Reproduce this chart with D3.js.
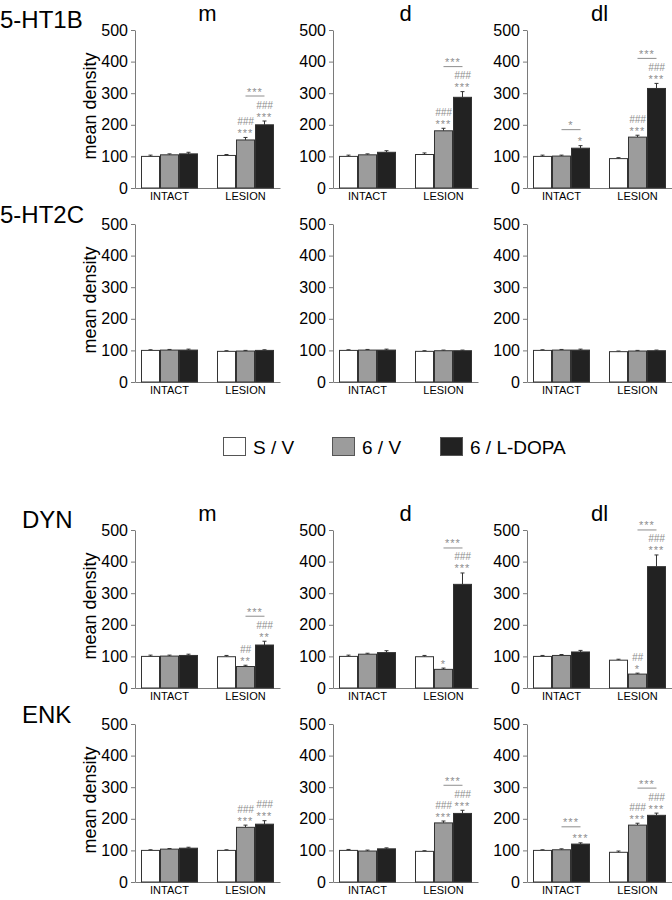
<!DOCTYPE html>
<html><head><meta charset="utf-8">
<script src="https://cdn.jsdelivr.net/npm/d3@7"></script>
<style>body{margin:0;background:#fff} svg{display:block} text{font-family:"Liberation Sans",Arial,Helvetica,sans-serif}</style>
</head><body><svg id="c" width="672" height="900"></svg>
<script>
// ---------- DATA ----------
const markers = ["5-HT1B", "5-HT2C", "DYN", "ENK"];
const regions = ["m", "d", "dl"];
const groups = ["INTACT", "LESION"];
const series = ["S / V", "6 / V", "6 / L-DOPA"];
const yTicks = [0, 100, 200, 300, 400, 500];

// means[region][group][series]
const ht1bMeans = [[[100,105,108],[103,152,200]], [[100,105,113],[106,181,287]], [[100,101,126],[93,161,315]]];
const ht1bErrors = [[[4,3,5],[3,8,12]], [[4,3,5],[5,8,18]], [[4,3,8],[3,6,16]]];
const ht2cMeans = [[[100,101,101],[97,98,100]], [[100,101,101],[97,99,99]], [[100,101,101],[96,98,99]]];
const ht2cErrors = [[[2,2,3],[2,2,2]], [[2,2,3],[2,2,2]], [[2,2,3],[2,2,2]]];
const dynMeans = [[[100,101,103],[99,68,136]], [[100,107,112],[99,59,328]], [[100,103,114],[88,44,384]]];
const dynErrors = [[[4,3,4],[4,4,12]], [[4,3,6],[4,4,36]], [[3,3,5],[3,3,37]]];
const enkMeans = [[[100,104,107],[100,173,183]], [[100,98,105],[97,187,217]], [[100,102,120],[94,180,211]]];
const enkErrors = [[[2,2,3],[2,7,11]], [[3,3,3],[2,6,10]], [[2,3,4],[4,6,7]]];

// significance marks: [marker, region, group, seriesIndex, labels bottom-to-top]
const barMarks = [
  ["5-HT1B","m","LESION",1,["***","###"]], ["5-HT1B","m","LESION",2,["***","###"]],
  ["5-HT1B","d","LESION",1,["***","###"]], ["5-HT1B","d","LESION",2,["***","###"]],
  ["5-HT1B","dl","INTACT",2,["*"]],
  ["5-HT1B","dl","LESION",1,["***","###"]], ["5-HT1B","dl","LESION",2,["***","###"]],
  ["DYN","m","LESION",1,["**","##"]], ["DYN","m","LESION",2,["**","###"]],
  ["DYN","d","LESION",1,["*"]], ["DYN","d","LESION",2,["***","###"]],
  ["DYN","dl","LESION",1,["*","##"]], ["DYN","dl","LESION",2,["***","###"]],
  ["ENK","m","LESION",1,["***","###"]], ["ENK","m","LESION",2,["***","###"]],
  ["ENK","d","LESION",1,["***","###"]], ["ENK","d","LESION",2,["***","###"]],
  ["ENK","dl","INTACT",2,["***"]],
  ["ENK","dl","LESION",1,["***","###"]], ["ENK","dl","LESION",2,["***","###"]]
];
// brackets between 6/V and 6/L-DOPA: [marker, region, group, label]
const brackets = [
  ["5-HT1B","m","LESION","***"], ["5-HT1B","d","LESION","***"],
  ["5-HT1B","dl","INTACT","*"], ["5-HT1B","dl","LESION","***"],
  ["DYN","m","LESION","***"], ["DYN","d","LESION","***"], ["DYN","dl","LESION","***"],
  ["ENK","d","LESION","***"], ["ENK","dl","INTACT","***"], ["ENK","dl","LESION","***"]
];

const meansByMarker = {"5-HT1B": ht1bMeans, "5-HT2C": ht2cMeans, "DYN": dynMeans, "ENK": enkMeans};
const errorsByMarker = {"5-HT1B": ht1bErrors, "5-HT2C": ht2cErrors, "DYN": dynErrors, "ENK": enkErrors};

// ---------- LAYOUT ----------
const panelX = [135, 333, 527];
const rowBase = [188, 382, 688, 882];
const plotH = 158, panelW = 145;
const fills = ["#ffffff", "#9c9c9c", "#222222"];
const axisColor = "#7a7a7a";
const markColor = "#8e8e8e";
const rowTitle = [{x:0,y:28},{x:0,y:223},{x:22,y:528},{x:22,y:723}];
const colTitleRows = [0, 2];

const svg = d3.select("#c");

markers.forEach((mk, ri) => {
  const y0 = rowBase[ri];
  const y = d3.scaleLinear().domain([0, 500]).range([y0, y0 - plotH]);
  svg.append("text").attr("x", rowTitle[ri].x).attr("y", rowTitle[ri].y)
    .attr("font-size", 24).text(mk);
  svg.append("text")
    .attr("transform", `translate(96,${y0 - 82}) rotate(-90)`)
    .attr("text-anchor", "middle").attr("font-size", 18).text("mean density");

  regions.forEach((rg, ci) => {
    const x0 = panelX[ci];
    const xg = d3.scaleBand().domain(groups).range([x0, x0 + panelW]).paddingInner(0.25).paddingOuter(0.079);
    const xs = d3.scaleBand().domain(d3.range(series.length)).range([0, xg.bandwidth()]).padding(0);
    const g = svg.append("g");

    if (colTitleRows.includes(ri)) {
      g.append("text").attr("x", x0 + panelW / 2).attr("y", y0 - plotH - 9)
        .attr("text-anchor", "middle").attr("font-size", 22).text(rg);
    }

    const yAxis = g.append("g").attr("transform", `translate(${x0},0)`)
      .call(d3.axisLeft(y).tickValues(yTicks).tickSize(4).tickSizeOuter(0).tickPadding(3));
    yAxis.selectAll("path,line").attr("stroke", axisColor);
    yAxis.selectAll("text").attr("font-size", 16).attr("fill", "#000")
      .attr("font-family", '"Liberation Sans",Arial,sans-serif');

    const xAxis = g.append("g").attr("transform", `translate(0,${y0})`)
      .call(d3.axisBottom(xg).tickSize(0).tickSizeOuter(0).tickPadding(4));
    xAxis.selectAll("path").attr("stroke", axisColor);
    xAxis.selectAll("text").attr("font-size", 11).attr("fill", "#000")
      .attr("font-family", '"Liberation Sans",Arial,sans-serif');

    const means = meansByMarker[mk][ci], errs = errorsByMarker[mk][ci];
    const tops = {};
    groups.forEach((gr, gi) => {
      series.forEach((s, si) => {
        const v = means[gi][si], e = errs[gi][si];
        const bx = xg(gr) + xs(si), bw = xs.bandwidth();
        const cx = bx + bw / 2;
        g.append("line").attr("x1", cx).attr("x2", cx).attr("y1", y(v)).attr("y2", y(v + e))
          .attr("stroke", "#333").attr("stroke-width", 1);
        g.append("line").attr("x1", cx - 2).attr("x2", cx + 2).attr("y1", y(v + e)).attr("y2", y(v + e))
          .attr("stroke", "#333").attr("stroke-width", 1);
        g.append("rect").attr("x", bx + 0.5).attr("y", y(v)).attr("width", bw - 1).attr("height", y0 - y(v))
          .attr("fill", fills[si]).attr("stroke", "#333").attr("stroke-width", 1);
        let topC = y(v + e);
        const bm = barMarks.find(d => d[0] === mk && d[1] === rg && d[2] === gr && d[3] === si);
        if (bm) {
          bm[4].forEach((lab, li) => {
            const c = y(v + e) - 7 - 9 * li;
            const isHash = lab.includes("#");
            g.append("text").attr("x", cx).attr("y", isHash ? c + 3.5 : c + 6.5)
              .attr("text-anchor", "middle").attr("fill", markColor)
              .attr("font-size", isHash ? 10 : 11).attr("font-style", isHash ? "italic" : "normal")
              .attr("letter-spacing", isHash ? 0 : 1).text(lab);
            topC = c;
          });
        }
        tops[gr + si] = {topC, cx};
      });
    });

    brackets.filter(d => d[0] === mk && d[1] === rg).forEach(b => {
      const a = tops[b[2] + 1], c = tops[b[2] + 2];
      const ly = Math.min(a.topC, c.topC) - 9;
      g.append("line").attr("x1", a.cx).attr("x2", c.cx).attr("y1", ly).attr("y2", ly)
        .attr("stroke", markColor).attr("stroke-width", 1);
      g.append("text").attr("x", (a.cx + c.cx) / 2).attr("y", ly - 7 + 6.5)
        .attr("text-anchor", "middle").attr("fill", markColor).attr("font-size", 11)
        .attr("letter-spacing", 1).text(b[3]);
    });
  });
});

// ---------- LEGEND ----------
const legX = [223, 332, 440];
const leg = svg.append("g");
series.forEach((s, i) => {
  leg.append("rect").attr("x", legX[i] + 0.5).attr("y", 437.5).attr("width", 22).attr("height", 18)
    .attr("fill", fills[i]).attr("stroke", "#555").attr("stroke-width", 1);
  leg.append("text").attr("x", legX[i] + 30).attr("y", 454).attr("font-size", 19).text(s);
});
</script></body></html>
